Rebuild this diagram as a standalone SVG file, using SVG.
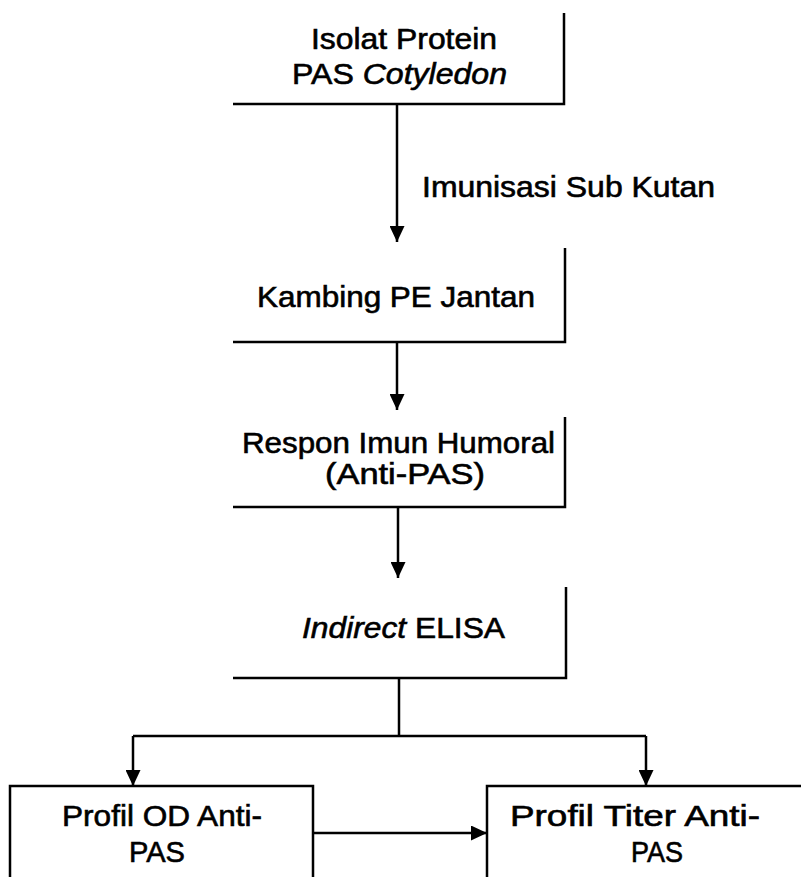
<svg xmlns="http://www.w3.org/2000/svg" width="801" height="877" viewBox="0 0 801 877">
<defs>
<marker id="ah" markerWidth="16" markerHeight="15" refX="16" refY="7.5" orient="auto" markerUnits="userSpaceOnUse" viewBox="0 0 16 15">
<path d="M0,0 L16,7.5 L0,15 Z" fill="#000"/>
</marker>
</defs>
<style>
.t{font-family:"Liberation Sans",Arial,sans-serif;font-size:29px;fill:#000;stroke:#000;stroke-width:0.6}
.i{font-style:italic}
.e{fill:none;stroke:#000;stroke-width:2.5}
.c{fill:none;stroke:#000;stroke-width:2.5}
</style>
<rect width="801" height="877" fill="#fff"/>
<g id="n1">
<path class="e" d="M233,104 H564 V13"/>
<text class="t" x="311" y="49" textLength="186" lengthAdjust="spacingAndGlyphs">Isolat Protein</text>
<text class="t" x="292" y="84" textLength="215" lengthAdjust="spacingAndGlyphs">PAS <tspan class="i">Cotyledon</tspan></text>
</g>
<g id="n2">
<path class="e" d="M233,342 H565 V248"/>
<text class="t" x="257" y="307" textLength="278" lengthAdjust="spacingAndGlyphs">Kambing PE Jantan</text>
</g>
<g id="n3">
<path class="e" d="M233,507 H565 V417"/>
<text class="t" x="242" y="453" textLength="313" lengthAdjust="spacingAndGlyphs">Respon Imun Humoral</text>
<text class="t" x="325" y="484" textLength="160" lengthAdjust="spacingAndGlyphs">(Anti-PAS)</text>
</g>
<g id="n4">
<path class="e" d="M233,678 H566 V587"/>
<text class="t" x="302" y="638" textLength="203" lengthAdjust="spacingAndGlyphs"><tspan class="i">Indirect</tspan> ELISA</text>
</g>
<g id="n5">
<path class="e" d="M10,877 V786 H313 V877"/>
<text class="t" x="62" y="826" textLength="200" lengthAdjust="spacingAndGlyphs">Profil OD Anti-</text>
<text class="t" x="129" y="862" textLength="56" lengthAdjust="spacingAndGlyphs">PAS</text>
</g>
<g id="n6">
<path class="e" d="M487,877 V786 H801"/>
<text class="t" x="510" y="826" textLength="250" lengthAdjust="spacingAndGlyphs">Profil Titer Anti-</text>
<text class="t" x="631" y="862" textLength="52" lengthAdjust="spacingAndGlyphs">PAS</text>
</g>
<g id="connectors">
<path class="c" d="M397,104 V242" marker-end="url(#ah)"/>
<text class="t" x="422" y="197" textLength="293" lengthAdjust="spacingAndGlyphs">Imunisasi Sub Kutan</text>
<path class="c" d="M397,342 V410" marker-end="url(#ah)"/>
<path class="c" d="M398,507 V578" marker-end="url(#ah)"/>
<path class="c" d="M399,678 V736"/>
<path class="c" d="M133,736 H646"/>
<path class="c" d="M133,736 V786" marker-end="url(#ah)"/>
<path class="c" d="M646,736 V786" marker-end="url(#ah)"/>
<path class="c" d="M313,833 H487" marker-end="url(#ah)"/>
</g>
</svg>
